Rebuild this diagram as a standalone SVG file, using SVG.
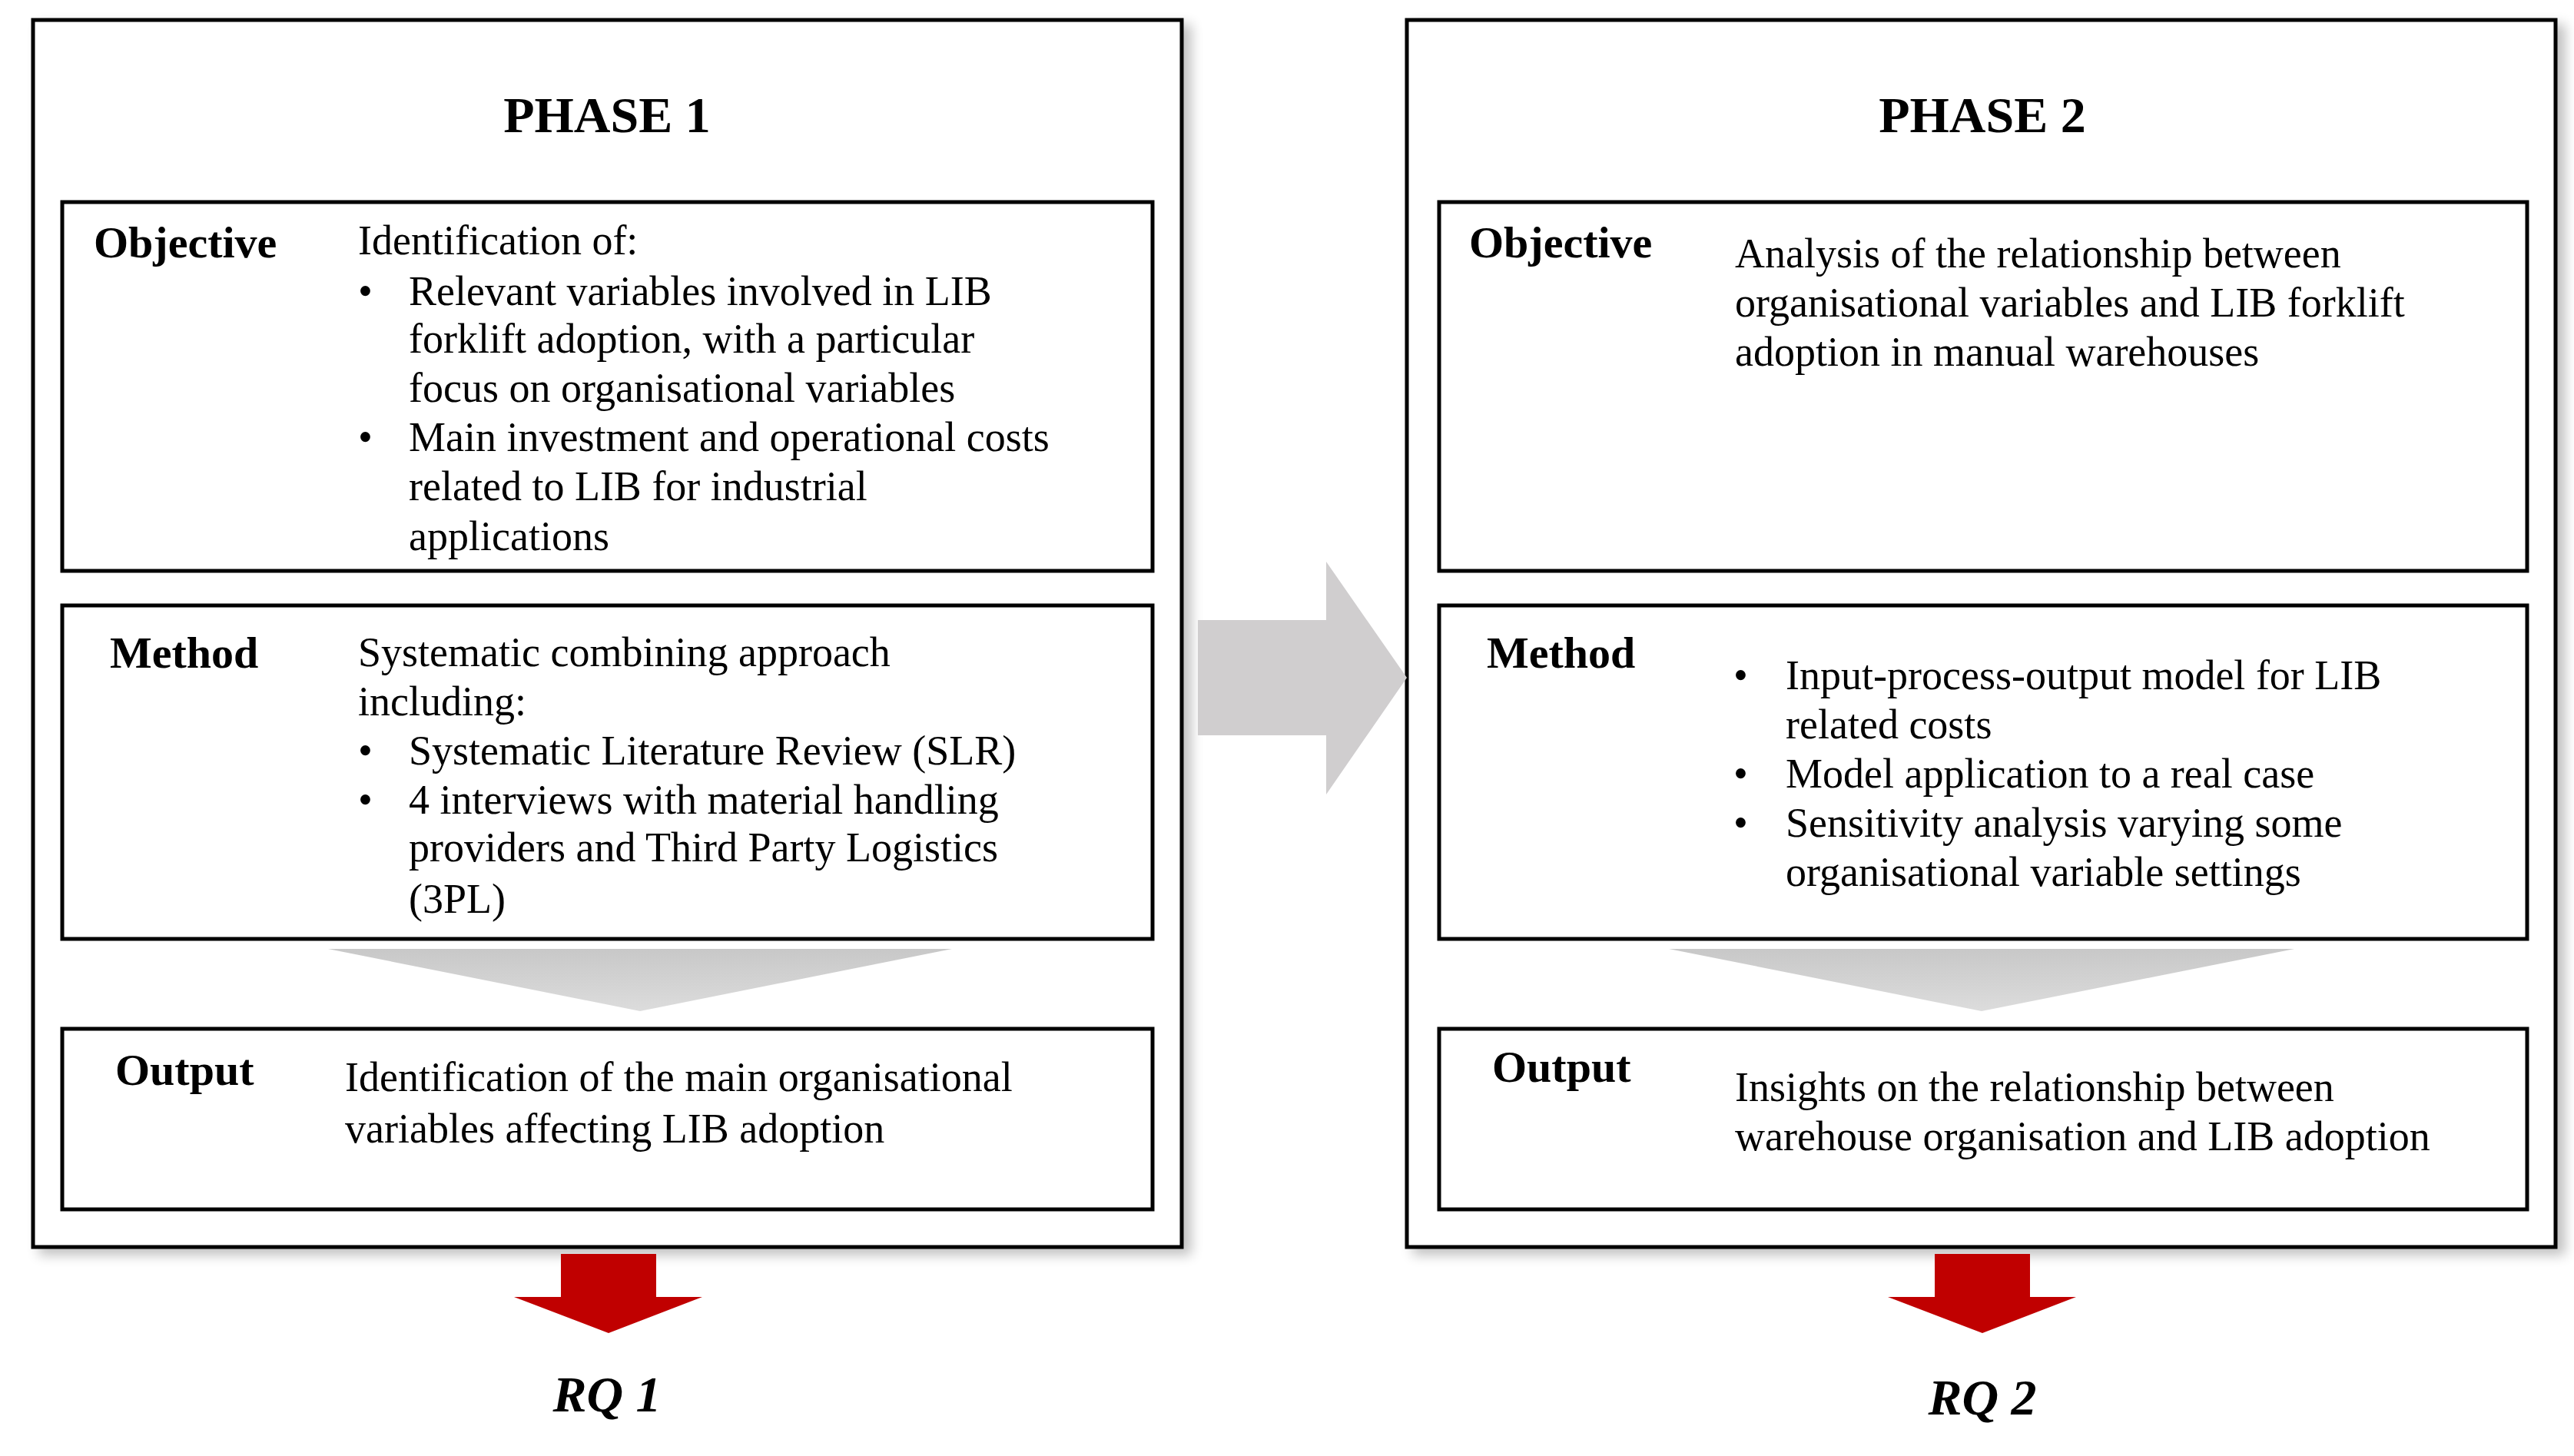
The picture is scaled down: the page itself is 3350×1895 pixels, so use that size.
<svg xmlns="http://www.w3.org/2000/svg" width="3350" height="1895" viewBox="0 0 3350 1895">
<defs>
<style>
.outer{fill:#fff;stroke:#000;stroke-width:5}
.box{fill:#fff;stroke:#000;stroke-width:5}
text{font-family:"Liberation Serif","DejaVu Serif",serif;fill:#000}
.t{font-size:54px}
.lab{font-size:58px;font-weight:bold}
.title{font-size:66px;font-weight:bold;text-anchor:middle}
.rq{font-size:66px;font-weight:bold;font-style:italic;text-anchor:middle}
.gray{fill:#d0cecf}
.red{fill:#c00000}
</style>
<filter id="sh" x="-5%" y="-5%" width="115%" height="115%"><feGaussianBlur in="SourceAlpha" stdDeviation="8"/><feOffset dx="10" dy="8"/><feComponentTransfer><feFuncA type="linear" slope="0.25"/></feComponentTransfer><feMerge><feMergeNode/><feMergeNode in="SourceGraphic"/></feMerge></filter>
<linearGradient id="tri" x1="0" y1="0" x2="0" y2="1"><stop offset="0" stop-color="#c8c8c8"/><stop offset="1" stop-color="#dcdcdc"/></linearGradient>
</defs>
<g id="phase1">
<rect class="outer" x="43" y="26" width="1495" height="1597" filter="url(#sh)"/>
<text class="title" x="790" y="172">PHASE 1</text>
</g>
<g id="phase2">
<rect class="outer" x="1831" y="26" width="1495" height="1597" filter="url(#sh)"/>
<text class="title" x="2580" y="172">PHASE 2</text>
</g>
<g id="p1-objective">
<rect class="box" x="81" y="263" width="1419" height="480"/>
<text class="lab" x="122" y="335">Objective</text>
<text class="t" x="466" y="331">Identification of:</text>
<text class="t" x="466" y="397">•</text>
<text class="t" x="532" y="397">Relevant variables involved in LIB</text>
<text class="t" x="532" y="459">forklift adoption, with a particular</text>
<text class="t" x="532" y="523">focus on organisational variables</text>
<text class="t" x="466" y="587">•</text>
<text class="t" x="532" y="587">Main investment and operational costs</text>
<text class="t" x="532" y="651">related to LIB for industrial</text>
<text class="t" x="532" y="716">applications</text>
</g>
<g id="p1-method">
<rect class="box" x="81" y="788" width="1419" height="434"/>
<text class="lab" x="143" y="869">Method</text>
<text class="t" x="466" y="867">Systematic combining approach</text>
<text class="t" x="466" y="931">including:</text>
<text class="t" x="466" y="995">•</text>
<text class="t" x="532" y="995">Systematic Literature Review (SLR)</text>
<text class="t" x="466" y="1059">•</text>
<text class="t" x="532" y="1059">4 interviews with material handling</text>
<text class="t" x="532" y="1121">providers and Third Party Logistics</text>
<text class="t" x="532" y="1188">(3PL)</text>
</g>
<g id="p1-output">
<rect class="box" x="81" y="1339" width="1419" height="235"/>
<text class="lab" x="150" y="1412">Output</text>
<text class="t" x="449" y="1420">Identification of the main organisational</text>
<text class="t" x="449" y="1487">variables affecting LIB adoption</text>
</g>
<g id="p2-objective">
<rect class="box" x="1873" y="263" width="1416" height="480"/>
<text class="lab" x="1912" y="335">Objective</text>
<text class="t" x="2258" y="348">Analysis of the relationship between</text>
<text class="t" x="2258" y="412">organisational variables and LIB forklift</text>
<text class="t" x="2258" y="476">adoption in manual warehouses</text>
</g>
<g id="p2-method">
<rect class="box" x="1873" y="788" width="1416" height="434"/>
<text class="lab" x="1935" y="869">Method</text>
<text class="t" x="2256" y="897">•</text>
<text class="t" x="2324" y="897">Input-process-output model for LIB</text>
<text class="t" x="2324" y="961">related costs</text>
<text class="t" x="2256" y="1025">•</text>
<text class="t" x="2324" y="1025">Model application to a real case</text>
<text class="t" x="2256" y="1089">•</text>
<text class="t" x="2324" y="1089">Sensitivity analysis varying some</text>
<text class="t" x="2324" y="1153">organisational variable settings</text>
</g>
<g id="p2-output">
<rect class="box" x="1873" y="1339" width="1416" height="235"/>
<text class="lab" x="1942" y="1408">Output</text>
<text class="t" x="2258" y="1433">Insights on the relationship between</text>
<text class="t" x="2258" y="1497">warehouse organisation and LIB adoption</text>
</g>
<g id="rq1"><text class="rq" x="790" y="1837">RQ 1</text></g>
<g id="rq2"><text class="rq" x="2580" y="1841">RQ 2</text></g>
<g id="connectors">
<polygon class="gray" points="1559,807 1726,807 1726,731 1831,882 1726,1034 1726,957 1559,957"/>
<polygon fill="url(#tri)" points="427,1235 1239,1235 833,1316"/>
<polygon fill="url(#tri)" points="2172,1235 2986,1235 2579,1316"/>
<polygon class="red" points="730,1632 854,1632 854,1688 914,1688 792,1735 669,1688 730,1688"/>
<polygon class="red" points="2518,1632 2642,1632 2642,1688 2702,1688 2580,1735 2457,1688 2518,1688"/>
</g>
</svg>
